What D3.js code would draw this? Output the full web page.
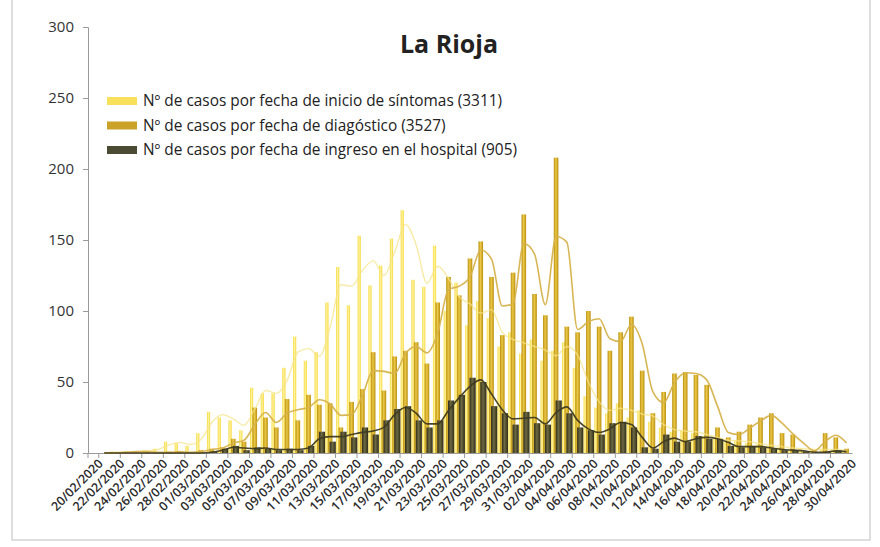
<!DOCTYPE html>
<html>
<head>
<meta charset="utf-8">
<script src="https://cdn.jsdelivr.net/npm/d3@7"></script>
<style>
  html, body { margin: 0; padding: 0; background: #fff; }
  svg { display: block; }
  text { font-family: "Open Sans", "Liberation Sans", sans-serif; }
</style>
</head>
<body>
<svg id="chart" width="880" height="547"></svg>
<script>
const dates = ["20/02/2020","21/02/2020","22/02/2020","23/02/2020","24/02/2020","25/02/2020","26/02/2020","27/02/2020","28/02/2020","29/02/2020",
  "01/03/2020","02/03/2020","03/03/2020","04/03/2020","05/03/2020","06/03/2020","07/03/2020","08/03/2020","09/03/2020","10/03/2020",
  "11/03/2020","12/03/2020","13/03/2020","14/03/2020","15/03/2020","16/03/2020","17/03/2020","18/03/2020","19/03/2020","20/03/2020",
  "21/03/2020","22/03/2020","23/03/2020","24/03/2020","25/03/2020","26/03/2020","27/03/2020","28/03/2020","29/03/2020","30/03/2020",
  "31/03/2020","01/04/2020","02/04/2020","03/04/2020","04/04/2020","05/04/2020","06/04/2020","07/04/2020","08/04/2020","09/04/2020",
  "10/04/2020","11/04/2020","12/04/2020","13/04/2020","14/04/2020","15/04/2020","16/04/2020","17/04/2020","18/04/2020","19/04/2020",
  "20/04/2020","21/04/2020","22/04/2020","23/04/2020","24/04/2020","25/04/2020","26/04/2020","27/04/2020","28/04/2020","29/04/2020",
  "30/04/2020"];

const sintomas = [0,0,1,0,1,2,3,8,7,5,14,
  29,25,23,16,46,42,42,60,82,65,
  71,106,131,104,153,118,132,151,171,122,117,146,
  100,120,90,107,95,75,85,70,80,65,72,78,60,
  40,32,28,35,25,30,22,18,15,16,14,12,10,8,9,7,6,5,4,3,3,2,3,2,1];

const diagnostico = [0,0,0,1,1,1,0,1,1,0,2,3,4,10,8,
  32,25,18,38,23,41,34,35,18,36,45,
  71,44,68,72,78,63,106,124,111,137,149,124,
  83,127,168,112,97,208,89,85,100,89,72,85,96,
  58,28,43,56,57,55,48,18,11,15,20,25,28,14,13,1,2,14,11,3];

const hospital = [0,0,0,0,0,0,0,0,0,0,0,
  1,3,5,2,4,3,2,3,2,5,
  15,8,15,11,18,13,23,31,33,23,18,23,
  37,41,53,50,33,28,20,29,21,20,37,28,
  18,16,13,21,22,18,4,3,13,8,8,12,10,10,5,4,5,4,3,2,2,1,0,1,2,0];

const seriesNames = [
  "Nº de casos por fecha de inicio de síntomas (3311)",
  "Nº de casos por fecha de diagóstico (3527)",
  "Nº de casos por fecha de ingreso en el hospital (905)"
];
const yTicks = [0, 50, 100, 150, 200, 250, 300];
const title = "La Rioja";

const svg = d3.select("#chart");
const defs = svg.append("defs");

function hGrad(id, edge, mid) {
  const g = defs.append("linearGradient").attr("id", id)
    .attr("x1", "0%").attr("x2", "100%").attr("y1", "0%").attr("y2", "0%");
  g.append("stop").attr("offset", "0%").attr("stop-color", edge);
  g.append("stop").attr("offset", "45%").attr("stop-color", mid);
  g.append("stop").attr("offset", "100%").attr("stop-color", edge);
}
hGrad("gY", "#F6D838", "#FFF3A0");
hGrad("gG", "#B98E0C", "#EBC848");
hGrad("gD", "#2E2C18", "#6E6A44");

const glow = defs.append("filter").attr("id", "soft").attr("x", "-50%").attr("width", "200%");
glow.append("feGaussianBlur").attr("stdDeviation", 0.5);

// frame
svg.append("rect").attr("x", 12).attr("y", -2).attr("width", 858).attr("height", 542)
  .attr("fill", "none").attr("stroke", "#d4d4d4").attr("stroke-width", 1.5);

const x = d3.scaleBand().domain(dates).range([88, 852]).padding(0);
const y = d3.scaleLinear().domain([0, 300]).range([453, 27]);
const bw = x.bandwidth();
const cx = d => x(d) + bw / 2;

// y axis
const yAxis = d3.axisLeft(y).tickValues(yTicks).tickSize(5).tickPadding(9);
const gy = svg.append("g").attr("transform", "translate(88,0)").call(yAxis);
gy.select(".domain").attr("stroke", "#9a9a9a");
gy.selectAll(".tick line").attr("stroke", "#9a9a9a");
gy.selectAll(".tick text").attr("fill", "#333").style("font-size", "15px")
  .style("font-family", "'Open Sans', sans-serif");

// bars
const layers = [
  { vals: sintomas, fill: "url(#gY)", off: -3.2, w: 3.2, filt: "url(#soft)" },
  { vals: diagnostico, fill: "url(#gG)", off: 0, w: 4.6, filt: null },
  { vals: hospital, fill: "url(#gD)", off: 2.6, w: 6.2, filt: null }
];
layers.forEach(L => {
  svg.append("g").attr("filter", L.filt)
    .selectAll("rect").data(dates).join("rect")
    .attr("x", (d) => cx(d) + L.off - L.w / 2)
    .attr("width", L.w)
    .attr("y", (d, i) => y(L.vals[i]))
    .attr("height", (d, i) => y(0) - y(L.vals[i]))
    .attr("fill", L.fill);
});

// x axis
const xAxis = d3.axisBottom(x).tickValues(dates.filter((d, i) => i % 2 === 0)).tickSize(0).tickPadding(6);
const gx = svg.append("g").attr("transform", "translate(0,453)").call(xAxis);
gx.select(".domain").attr("stroke", "#9a9a9a");
gx.selectAll(".tick text")
  .attr("fill", "#2a2a2a")
  .style("font-size", "12.5px")
  .style("font-weight", "600")
  .style("font-family", "'Open Sans', sans-serif")
  .attr("text-anchor", "end")
  .attr("transform", "translate(3,4) rotate(-45)")
  .attr("dy", "0.35em");
// tick marks between categories every 2 days
svg.append("g").selectAll("line")
  .data(dates.filter((d, i) => i % 2 === 1))
  .join("line")
  .attr("x1", d => x(d)).attr("x2", d => x(d))
  .attr("y1", 453).attr("y2", 458)
  .attr("stroke", "#9a9a9a");
svg.append("line").attr("x1", 88).attr("x2", 88).attr("y1", 453).attr("y2", 458).attr("stroke", "#9a9a9a");

// moving average (period 2) trendlines
function movAvg(arr) {
  const out = [];
  for (let i = 1; i < arr.length; i++) out.push({ d: dates[i], v: (arr[i] + arr[i - 1]) / 2 });
  return out;
}
const line = d3.line().x(p => cx(p.d)).y(p => y(p.v)).curve(d3.curveMonotoneX);
[
  { vals: sintomas, color: "#F5E48A", w: 1.4, op: 0.75 },
  { vals: diagnostico, color: "#D6B24C", w: 1.6, op: 0.95 },
  { vals: hospital, color: "#3F3C22", w: 1.6, op: 0.95 }
].forEach(S => {
  svg.append("path").datum(movAvg(S.vals))
    .attr("d", line).attr("fill", "none")
    .attr("stroke", S.color).attr("stroke-width", S.w).attr("opacity", S.op);
});

// title
svg.append("text").attr("x", 449).attr("y", 53).attr("text-anchor", "middle")
  .style("font-size", "25px").style("font-weight", "700").attr("fill", "#222")
  .text(title);

// legend
const legSw = ["#F8E05A", "#C9A227", "#4B4A33"];
const leg = svg.append("g");
seriesNames.forEach((n, i) => {
  const yy = 101 + i * 24.5;
  leg.append("rect").attr("x", 107).attr("y", yy - 4).attr("width", 30).attr("height", 8)
    .attr("fill", legSw[i]);
  leg.append("text").attr("x", 143).attr("y", yy).attr("dy", "0.35em")
    .style("font-size", "15.4px").attr("fill", "#222").text(n);
});
</script>
</body>
</html>
